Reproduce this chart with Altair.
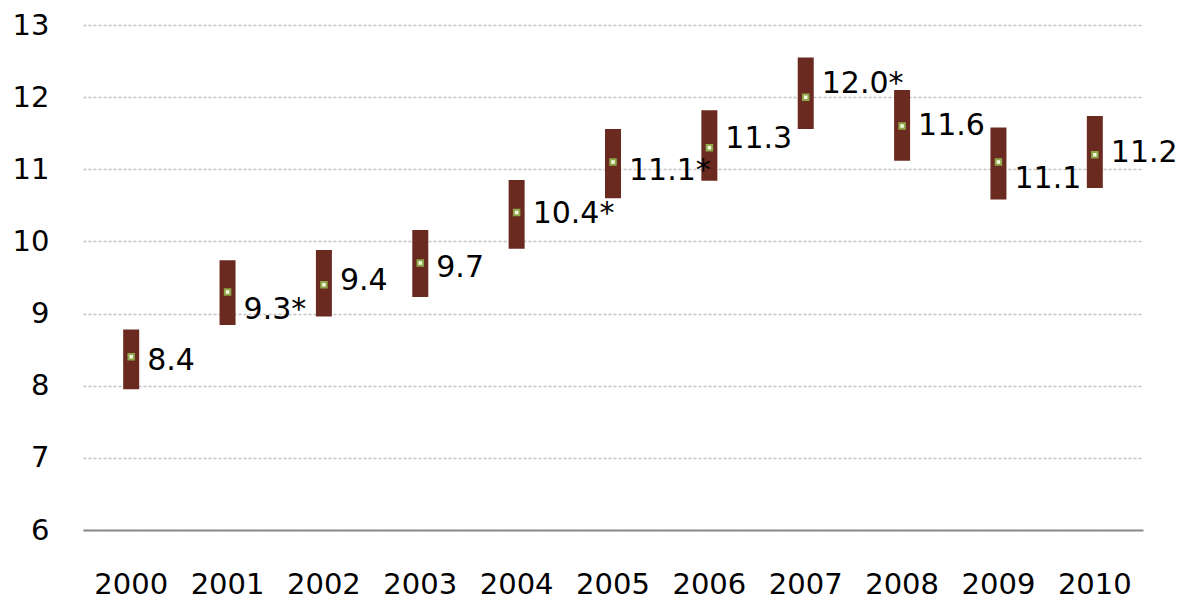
import altair as alt
import pandas as pd

years = ["2000", "2001", "2002", "2003", "2004", "2005", "2006", "2007", "2008", "2009", "2010"]
values = [8.4, 9.3, 9.4, 9.7, 10.4, 11.1, 11.3, 12.0, 11.6, 11.1, 11.2]
low = [7.95, 8.84, 8.96, 9.23, 9.90, 10.60, 10.84, 11.56, 11.12, 10.58, 10.74]
high = [8.78, 9.74, 9.88, 10.16, 10.85, 11.56, 11.82, 12.55, 12.10, 11.58, 11.74]
labels = ["8.4", "9.3*", "9.4", "9.7", "10.4*", "11.1*", "11.3", "12.0*", "11.6", "11.1", "11.2"]
label_pos = [8.34, 9.05, 9.45, 9.63, 10.38, 10.97, 11.42, 12.18, 11.60, 10.86, 11.22]

df = pd.DataFrame({
    "year": years, "value": values, "low": low, "high": high,
    "label": labels, "label_pos": label_pos,
})

FONT = "DejaVu Sans"

x = alt.X("year:N", sort=years, title=None,
          scale=alt.Scale(paddingOuter=0, paddingInner=0),
          axis=alt.Axis(labelAngle=0, labelFontSize=29, labelFont=FONT, labelColor="#000",
                        labelPadding=40, labelBaseline="top", ticks=False, tickSize=0,
                        domain=True, domainColor="#8a8a8a", domainWidth=2, grid=False))
yscale = alt.Scale(domain=[6, 13], nice=False, zero=False)
yaxis = alt.Axis(values=[6, 7, 8, 9, 10, 11, 12, 13], format="d", labelFontSize=29, labelFont=FONT,
                 labelColor="#000", labelPadding=34, ticks=False, tickSize=0, domain=False,
                 grid=True, gridColor="#c4c4c4", gridWidth=1.5, gridDash=[3, 2])

base = alt.Chart(df)

bars = base.mark_bar(size=16, color="#6B2A20").encode(
    x=x,
    y=alt.Y("low:Q", scale=yscale, axis=yaxis, title=None),
    y2="high:Q",
)

marks = base.mark_square(size=30, fill="#f4f8e0", stroke="#8FA84A", strokeWidth=2, opacity=1).encode(
    x=x,
    y=alt.Y("value:Q", scale=yscale),
)

text = base.mark_text(align="left", baseline="middle", dx=16, fontSize=30, font=FONT, color="#000").encode(
    x=x,
    y=alt.Y("label_pos:Q", scale=yscale),
    text="label:N",
)

chart = alt.layer(bars, marks, text).properties(
    width=1060, height=505,
    autosize=alt.AutoSizeParams(type="none"),
    padding={"left": 75, "top": 17, "right": 35, "bottom": 70},
).configure_view(stroke=None)

chart.save("out.html", embed_options={"renderer": "svg", "actions": False})
